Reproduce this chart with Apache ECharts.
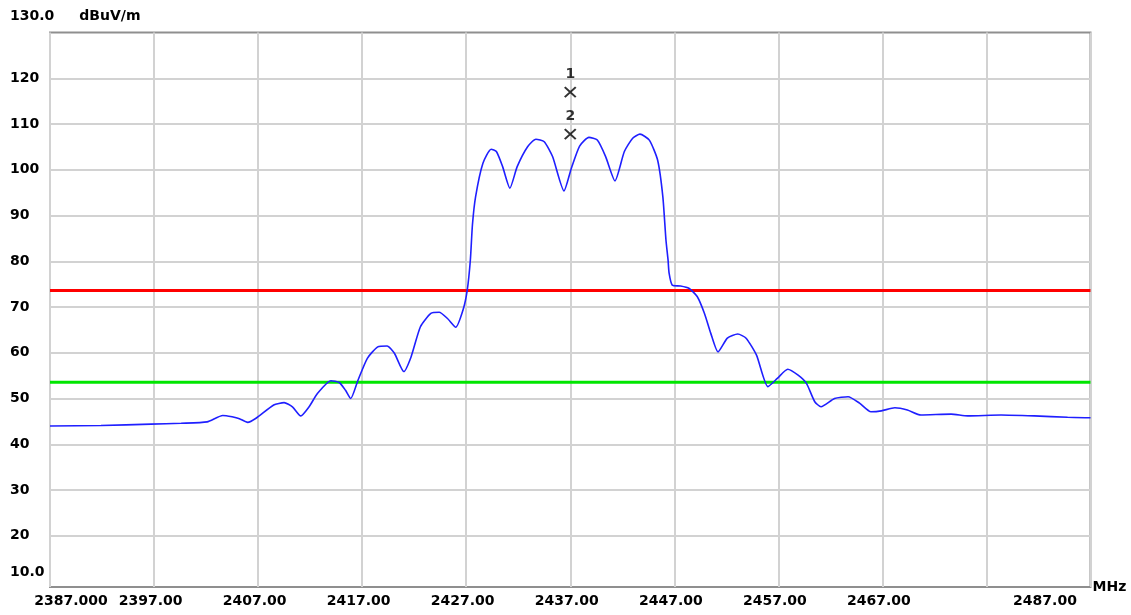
<!DOCTYPE html>
<html>
<head>
<meta charset="utf-8">
<script src="https://cdn.jsdelivr.net/npm/echarts@6/dist/echarts.min.js"></script>
<style>
  html, body { margin: 0; padding: 0; background: #ffffff; }
  #chart { width: 1131px; height: 615px; }
</style>
</head>
<body>
<div id="chart"></div>
<script>
// Spectrum trace: frequency (MHz) and field strength (dBuV/m)
const freqMHz = [
  2387.0, 2391.9, 2396.7, 2399.6, 2402.1, 2403.6, 2404.5, 2405.2, 2406.0, 2406.8,
  2408.5, 2409.5, 2410.3, 2411.1, 2411.9, 2412.7, 2414.0, 2414.8, 2415.4, 2415.9,
  2416.6, 2417.5, 2418.5, 2419.4, 2420.1, 2421.0, 2421.7, 2422.6, 2423.6, 2424.4,
  2425.2, 2426.0, 2426.7, 2427.1, 2427.4, 2427.6, 2427.9, 2428.6, 2429.4, 2429.9,
  2430.5, 2431.2, 2431.9, 2432.9, 2433.7, 2434.5, 2435.3, 2436.4, 2437.1, 2437.9,
  2438.8, 2439.6, 2440.4, 2441.3, 2442.2, 2443.0, 2443.7, 2444.6, 2445.4, 2445.9,
  2446.2, 2446.4, 2446.5, 2446.8, 2447.6, 2448.4, 2449.2, 2449.9, 2450.5, 2451.2,
  2452.1, 2453.1, 2453.9, 2454.9, 2456.0, 2456.9, 2457.9, 2458.9, 2459.7, 2460.5,
  2461.1, 2462.4, 2463.7, 2464.8, 2465.9, 2466.9, 2468.2, 2469.4, 2470.7, 2473.6,
  2475.2, 2478.4, 2481.6, 2484.8, 2486.9, 2487.0
];
const levelDbuv = [
  44.0, 44.1, 44.4, 44.6, 44.9, 46.3, 46.0, 45.6, 44.8, 45.7,
  48.6, 49.1, 48.2, 46.2, 48.2, 51.1, 53.9, 53.5, 51.8, 50.0,
  54.0, 58.8, 61.3, 61.5, 59.9, 55.9, 59.1, 65.7, 68.6, 68.85,
  67.5, 65.6, 69.4, 73.7, 80.3, 88.0, 94.1, 101.4, 104.5, 104.0,
  100.7, 96.0, 100.7, 105.05, 106.7, 106.15, 102.9, 95.4, 100.3, 105.2,
  107.1, 106.5, 102.9, 97.6, 104.0, 106.9, 107.8, 106.5, 102.1, 94.1,
  84.6, 80.3, 77.4, 74.8, 74.6, 74.1, 72.3, 68.6, 64.3, 60.2,
  63.2, 64.1, 63.2, 59.5, 52.6, 54.4, 56.4, 55.1, 53.3, 49.3,
  48.2, 50.0, 50.4, 49.0, 47.1, 47.3, 48.0, 47.5, 46.4, 46.6,
  46.2, 46.4, 46.2, 45.9, 45.8, 45.8
];

// Limit lines (dBuV/m)
const limitPeak = 73.6;
const limitAverage = 53.55;

// Markers: number, frequency, level
const markerIds = ['1', '2'];
const markerFreq = [2437.0, 2437.0];
const markerLevel = [117.0, 107.8];

// Axis ticks
const xLabelValues = [2387, 2397, 2407, 2417, 2427, 2437, 2447, 2457, 2467, 2487];
const yGridValues = [20, 30, 40, 50, 60, 70, 80, 90, 100, 110, 120];
const yLabelValues = [10, 20, 30, 40, 50, 60, 70, 80, 90, 100, 110, 120];
const yTopLabel = '130.0';
const yUnit = 'dBuV/m';
const xUnit = 'MHz';

const FONT = 'DejaVu Sans';
const bold = { fontFamily: FONT, fontSize: 14, fontWeight: 'bold', color: '#000' };

const trace = freqMHz.map((f, i) => [f, levelDbuv[i]]);
const xMin = 2387, xMax = 2487;
const peakLine = [[xMin, limitPeak], [xMax, limitPeak]];
const avgLine = [[xMin, limitAverage], [xMax, limitAverage]];
const markers = markerIds.map((id, i) => ({ name: id, value: [markerFreq[i], markerLevel[i]] }));

const chart = echarts.init(document.getElementById('chart'), null, { renderer: 'canvas' });
chart.setOption({
  animation: false,
  backgroundColor: '#ffffff',
  title: {
    left: 10, top: 9, padding: 0,
    text: '{a|' + yTopLabel + '}{b|' + yUnit + '}',
    textStyle: {
      rich: {
        a: bold,
        b: Object.assign({}, bold, { padding: [0, 0, 0, 25] })
      }
    }
  },
  grid: {
    left: 50, right: 40.5, top: 32.6, bottom: 28,
    show: true, borderColor: '#8f8f8f', borderWidth: 2, backgroundColor: '#ffffff'
  },
  xAxis: {
    type: 'value', min: xMin, max: xMax, interval: 10,
    name: xUnit, nameLocation: 'end', nameGap: 2,
    nameTextStyle: Object.assign({}, bold, { padding: [28, 0, 0, 0] }),
    axisLine: { show: false },
    axisTick: { show: false },
    splitLine: { show: true, lineStyle: { color: '#d2d2d2', width: 2 } },
    axisLabel: {
      customValues: xLabelValues,
      margin: 7,
      formatter: v => {
        if (v === xMin) return '{first|' + v.toFixed(3) + '}';
        if (v === xMax) return '{last|' + v.toFixed(2) + '}';
        return '{mid|' + v.toFixed(2) + '}';
      },
      rich: {
        first: Object.assign({}, bold, { padding: [0, 0, 0, 42] }),
        last: Object.assign({}, bold, { padding: [0, 91, 0, 0] }),
        mid: Object.assign({}, bold, { padding: [0, 7, 0, 0] })
      }
    }
  },
  yAxis: {
    type: 'value', min: 8.8, max: 130,
    axisLine: { show: false },
    axisTick: { show: false, customValues: yGridValues },
    splitLine: { show: true, lineStyle: { color: '#d2d2d2', width: 2 } },
    axisLabel: {
      customValues: yLabelValues,
      align: 'left',
      margin: 40,
      formatter: v => v === 10 ? '{low|10.0}' : '{n|' + v + '}',
      rich: {
        low: Object.assign({}, bold, { padding: [0, 0, 19, 0] }),
        n: bold
      }
    }
  },
  series: [
    {
      type: 'line', data: peakLine, showSymbol: false, silent: true,
      lineStyle: { color: '#ff0000', width: 3 }, z: 2
    },
    {
      type: 'line', data: avgLine, showSymbol: false, silent: true,
      lineStyle: { color: '#00e600', width: 3 }, z: 2
    },
    {
      type: 'line', data: trace, showSymbol: false, smooth: 0.2,
      lineStyle: { color: '#1f1fff', width: 1.6 }, z: 3
    },
    {
      type: 'scatter', data: markers,
      symbol: 'path://M0,0L10,10M10,0L0,10', symbolSize: [11, 10],
      itemStyle: { color: 'none', borderColor: '#000', borderWidth: 2 },
      label: {
        show: true, position: 'top', distance: 3,
        formatter: p => p.name,
        fontFamily: FONT, fontSize: 14, fontWeight: 'bold', color: '#000'
      },
      z: 4
    }
  ]
});
</script>
</body>
</html>
